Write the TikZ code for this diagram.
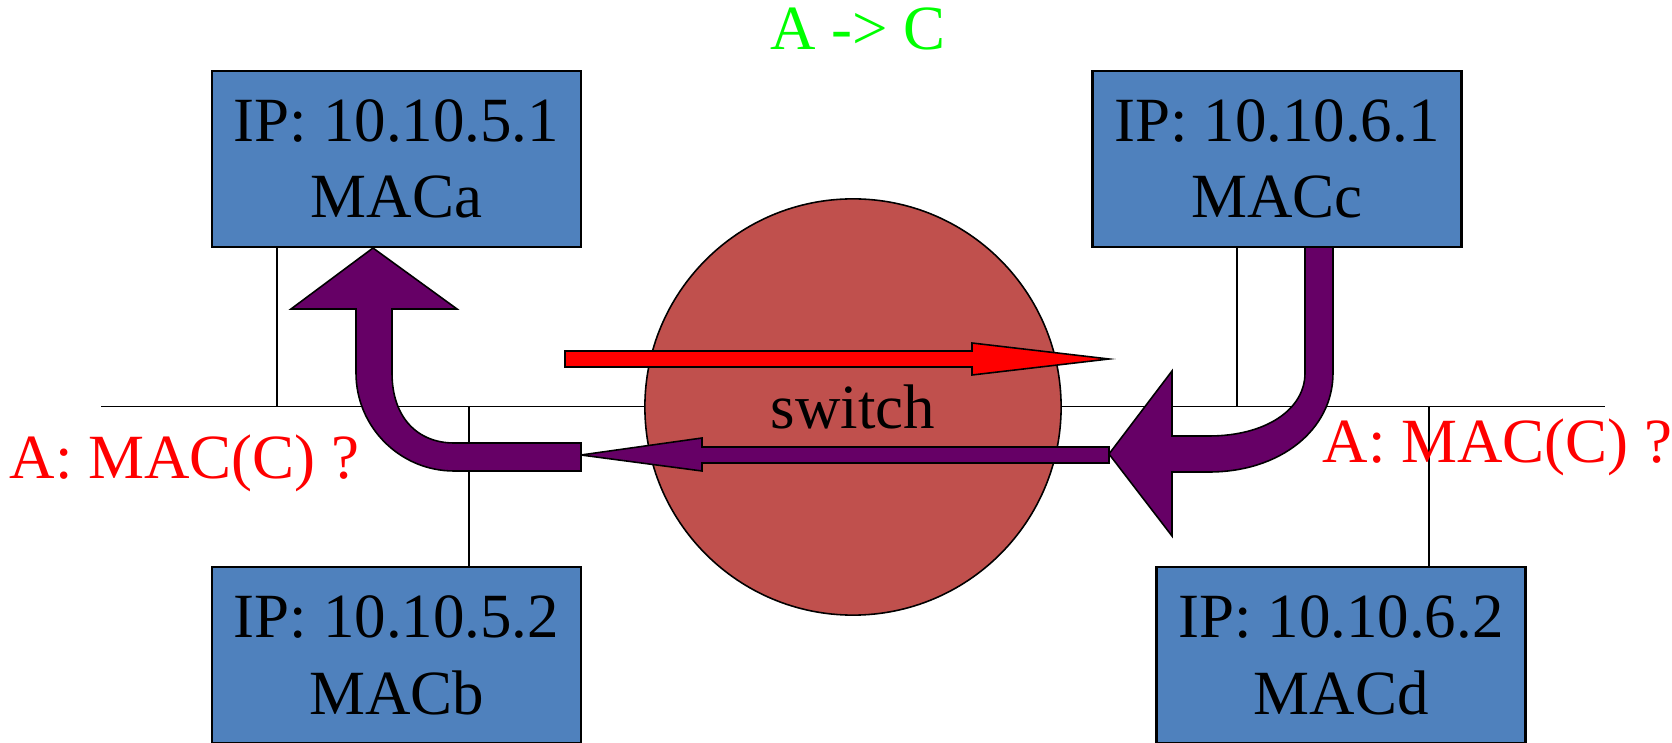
\documentclass[tikz,border=0pt]{standalone}
\usepackage{fontspec}
\setmainfont{Liberation Serif}
\usetikzlibrary{positioning}
\definecolor{hostblue}{RGB}{79,129,189}
\definecolor{switchred}{RGB}{192,80,77}
\definecolor{arppurple}{RGB}{102,0,102}

\begin{document}
\begin{tikzpicture}[
    x=0.01cm, y=-0.01cm,
    node distance=3.2cm,
    host/.style={rectangle, draw, line width=0.7pt, fill=hostblue, minimum width=3.69cm, minimum height=1.76cm, inner sep=0pt, outer sep=0pt, align=center, font=\fontsize{17.9pt}{21.7pt}\selectfont},
    wire/.style={line width=0.5pt},
    msg/.style={inner sep=0pt, font=\fontsize{17.9pt}{21.7pt}\selectfont},
    blockarrow/.style={draw, line width=0.45pt, line join=miter}
]
    \useasboundingbox (0,0) rectangle (1672,743);

    \node[host] (hostA) at (396.5,159) {IP: 10.10.5.1\\MACa};
    \node[host, below=of hostA] (hostB) {IP: 10.10.5.2\\MACb};
    \node[host, right=5.11cm of hostA] (hostC) {IP: 10.10.6.1\\MACc};
    \node[host, below=of hostC, xshift=0.64cm] (hostD) {IP: 10.10.6.2\\MACd};

    \coordinate (busL) at (101,406.5);
    \coordinate (busR) at (1604.5,406.5);
    \coordinate (tapA) at (277,406.5);
    \coordinate (tapB) at (469,406.5);
    \coordinate (tapC) at (1237,406.5);
    \coordinate (tapD) at (1429,406.5);

    \draw[wire] (busL) -- (busR);
    \draw[wire] (hostA.south -| tapA) -- (tapA);
    \draw[wire] (tapB) -- (hostB.north -| tapB);
    \draw[wire] (hostC.south -| tapC) -- (tapC);
    \draw[wire] (tapD) -- (hostD.north -| tapD);

    \node[circle, draw, line width=0.45pt, fill=switchred, minimum size=4.16cm, msg] (sw) at (853,407) {switch};

    % A -> C frame
    \draw[blockarrow, fill=red] (565,351) -- (972,351) -- (972,343) -- (1109,359) -- (972,375) -- (972,367) -- (565,367) -- cycle;
    % request back to A
    \draw[blockarrow, fill=arppurple] (1109,447) -- (702,447) -- (702,438) -- (581,455) -- (702,471) -- (702,463) -- (1109,463) -- cycle;
    \draw[blockarrow, fill=arppurple] (581,443) -- (581,471) -- (454,471) .. controls (400,471) and (356,427) .. (356,373) -- (356,309) -- (291,309) -- (373,248) -- (457,309) -- (392,309) -- (392,373) .. controls (392,418) and (418,443) .. (454,443) -- cycle;
    \draw[blockarrow, fill=arppurple] (1305,247) -- (1333,247) -- (1333,373) .. controls (1333,430) and (1280,472) .. (1209,472) -- (1172,472) -- (1172,536) -- (1109,454) -- (1172,371) -- (1172,436) -- (1209,436) .. controls (1265,436) and (1305,410) .. (1305,373) -- cycle;

    \node[msg, text=green, anchor=base] (route) at (858,50) {A -> C};
    \node[msg, text=red, anchor=base west] (askA) at (9,479) {A: MAC(C) ?};
    \node[msg, text=red, anchor=base west] (askC) at (1322,463) {A: MAC(C) ?};
\end{tikzpicture}
\end{document}
